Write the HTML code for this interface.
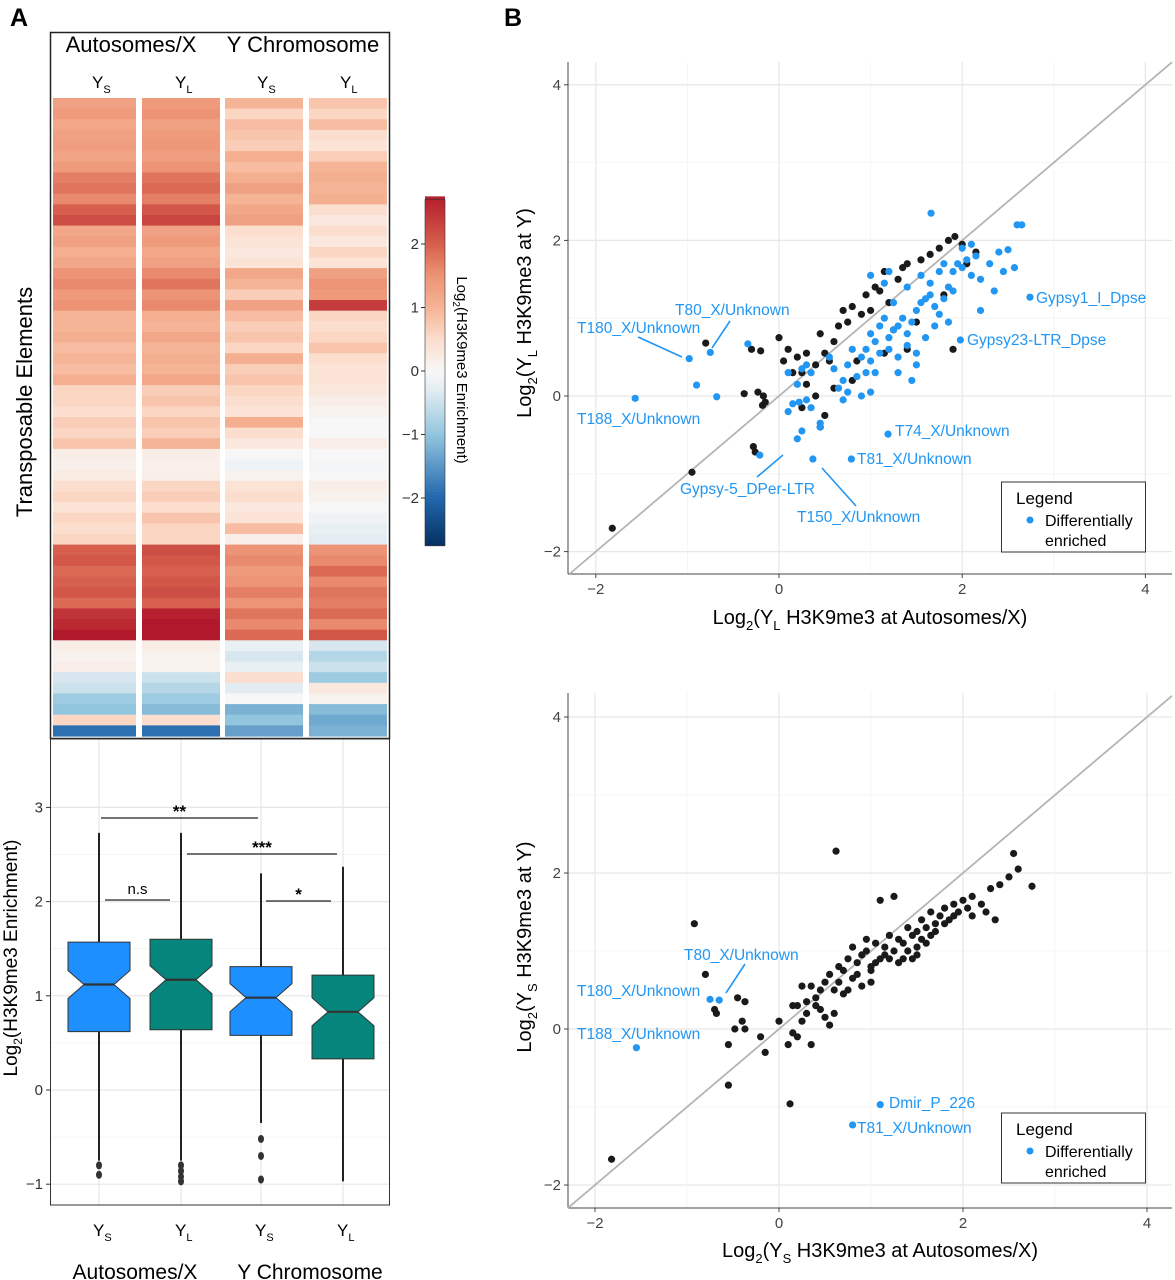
<!DOCTYPE html>
<html><head><meta charset="utf-8"><style>
html,body{margin:0;padding:0;background:#fff}
svg{display:block;font-family:"Liberation Sans",Arial,sans-serif}
</style></head><body>
<svg id="fig" width="1175" height="1280" viewBox="0 0 1175 1280" xmlns="http://www.w3.org/2000/svg">
<text x="10" y="26" font-size="25" font-weight="bold">A</text>
<text x="504" y="26" font-size="25" font-weight="bold">B</text>
<g id="heat"></g>
<g id="box"></g>
<g id="sc1"></g>
<g id="sc2"></g>
</svg>
<script>
const NS="http://www.w3.org/2000/svg";
function mk(p,t,a,txt){const e=document.createElementNS(NS,t);for(const k in a)e.setAttribute(k,a[k]);if(txt!==undefined)e.textContent=txt;p.appendChild(e);return e;}

// ---------- Heatmap data (rows top->bottom) ----------
const heatColumns=["Ys","YL","Ys","YL"];
const ysAuto=[1.3,1.4,1.2,1.3,1.35,1.25,1.4,1.7,1.8,1.6,2.0,2.2,1.2,1.3,1.1,1.2,1.5,1.6,1.4,1.5,1.0,1.0,1.1,0.9,1.0,0.9,1.1,0.6,0.6,0.5,0.7,0.6,0.8,0.2,0.15,0.25,0.5,0.6,0.4,0.6,0.5,0.6,2.0,2.1,1.9,2.0,2.1,1.9,2.5,2.6,2.8,0.2,0.1,0.2,-0.4,-0.5,-0.9,-1.0,0.6,-1.9];
const ylAuto=[1.4,1.5,1.3,1.4,1.45,1.35,1.5,1.8,1.9,1.7,2.1,2.3,1.3,1.4,1.2,1.3,1.6,1.8,1.5,1.6,1.1,1.0,1.2,1.0,1.1,1.0,1.2,0.7,0.8,0.6,0.8,0.7,1.0,0.2,0.15,0.2,0.6,0.7,0.5,0.8,0.6,0.6,2.2,2.1,2.0,2.1,2.2,2.0,2.7,2.8,2.9,0.2,0.1,0.1,-0.5,-0.7,-0.9,-1.1,0.5,-1.9];
const ysY=[1.0,0.6,0.9,0.8,0.7,1.1,0.9,1.1,1.3,1.0,1.2,1.3,0.5,0.4,0.3,0.4,1.2,1.0,0.7,1.3,0.9,0.7,0.8,0.6,1.1,0.7,0.8,0.6,0.5,0.4,1.1,0.5,0.3,0.0,-0.1,0.1,0.4,0.5,0.3,0.4,0.9,0.2,1.5,1.6,1.4,1.5,1.7,1.5,1.8,1.6,1.9,-0.2,-0.4,-0.2,0.5,-0.3,0.0,-1.2,-1.0,-1.4];
const ylY=[0.8,0.6,0.9,0.5,0.4,0.7,1.0,1.1,1.0,1.1,0.5,0.3,0.5,0.3,0.6,0.4,1.3,1.5,1.4,2.4,0.6,0.5,0.6,0.8,0.5,0.4,0.4,0.3,0.2,0.1,0.0,0.0,0.2,0.0,-0.05,0.0,0.2,0.1,0.0,-0.1,-0.2,-0.3,1.5,1.6,1.9,1.6,1.8,1.7,1.9,1.6,2.1,-0.4,-0.7,-0.5,-0.9,0.3,0.1,-1.1,-1.3,-1.2];
const cbTicks=[2,1,0,-1,-2];

const rdbu=[[-2.75,[5,48,97]],[-2,[33,102,172]],[-1,[146,197,222]],[-0.3,[226,236,242]],[0,[247,247,247]],[0.5,[252,222,206]],[1,[246,180,150]],[1.5,[238,148,118]],[2,[214,96,77]],[2.8,[178,24,43]]];
function col(v){if(v<=rdbu[0][0])return `rgb(${rdbu[0][1]})`;for(let i=1;i<rdbu.length;i++){if(v<=rdbu[i][0]){const a=rdbu[i-1],b=rdbu[i],t=(v-a[0])/(b[0]-a[0]);const c=a[1].map((x,j)=>Math.round(x+(b[1][j]-x)*t));return `rgb(${c})`;}}return `rgb(${rdbu[rdbu.length-1][1]})`;}

(function(){
 const g=document.getElementById('heat');
 mk(g,'rect',{x:50.5,y:32.5,width:339,height:706,fill:'#fff',stroke:'#222','stroke-width':1.5});
 let t=mk(g,'text',{x:131,y:52,'font-size':22,'text-anchor':'middle'},'Autosomes/X');
 t=mk(g,'text',{x:303,y:52,'font-size':22,'text-anchor':'middle'},'Y Chromosome');
 const colX=[53,142,225,309],colW=[83,78,78,78],cx=[97,180,262,345];
 const data=[ysAuto,ylAuto,ysY,ylY];
 const top=98,bot=736,n=ysAuto.length,h=(bot-top)/n;
 data.forEach((arr,c)=>{
  const lab=mk(g,'text',{x:cx[c]-5,y:88,'font-size':17});lab.textContent='Y';
  mk(lab,'tspan',{'font-size':11,dy:5},heatColumns[c]==='Ys'?'S':'L');
  
  arr.forEach((v,i)=>{const r=mk(g,'rect',{x:colX[c],y:top+i*h,width:colW[c],height:h+0.6,fill:col(v)});
   });
 });
 t=mk(g,'text',{transform:'translate(32,402) rotate(-90)','font-size':22,'text-anchor':'middle'},'Transposable Elements');
 
 const cb=mk(g,'g',{});
 const y0=371,k=63.5,vt=2.7,vb=-2.75;
 for(let v=vb;v<vt;v+=0.05){mk(cb,'rect',{x:425,y:y0-(v+0.05)*k,width:20,height:0.05*k+0.5,fill:col(v+0.025)});}
 mk(cb,'rect',{x:425,y:y0-vt*k,width:20,height:(vt-vb)*k,fill:'none',stroke:'#333','stroke-width':0.6});
 cbTicks.forEach(v=>{const y=y0-v*k;mk(cb,'line',{x1:421,x2:425,y1:y,y2:y,stroke:'#333'});
  const tt=mk(cb,'text',{x:419,y:y+5,'font-size':15,'text-anchor':'end',fill:'#333'},v<0?'\u2212'+(-v):String(v));
  });
 t=mk(g,'text',{transform:'translate(457,370) rotate(90)','font-size':15,'text-anchor':'middle'});
 t.appendChild(document.createTextNode('Log'));mk(t,'tspan',{'font-size':10,dy:4},'2');mk(t,'tspan',{dy:-4},'(H3K9me3 Enrichment)');
 
})();

// ---------- Boxplot ----------
const boxGroups=["S","L","S","L"];
const boxQ1=[0.62,0.64,0.58,0.33];
const boxMed=[1.12,1.17,0.98,0.83];
const boxQ3=[1.57,1.6,1.31,1.22];
const boxWhiskHi=[2.73,2.73,2.3,2.37];
const boxWhiskLo=[-0.75,-0.75,-0.35,-0.97];
const boxOutliers=[[-0.8,-0.9],[-0.8,-0.86,-0.92,-0.97],[-0.52,-0.7,-0.95],[]];
const boxFill=["#1e8fff","#05857b","#1e8fff","#05857b"];
const boxTicks=[3,2,1,0,-1];
(function(){
 const g=document.getElementById('box');
 const X0=50,X1=390,Y0=739,Y1=1205;
 const yS=v=>1090-v*94.2;
 mk(g,'rect',{x:X0,y:Y0,width:X1-X0,height:Y1-Y0,fill:'#fff'});
 for(let v=-1;v<=3;v+=0.5){mk(g,'line',{x1:X0,x2:X1,y1:yS(v),y2:yS(v),stroke:Number.isInteger(v)?'#e6e6e6':'#f2f2f2','stroke-width':Number.isInteger(v)?1.2:0.8});}
 const cx=[99,181,261,343];
 cx.forEach(x=>mk(g,'line',{x1:x,x2:x,y1:Y0,y2:Y1,stroke:'#e6e6e6','stroke-width':1.2}));
 mk(g,'rect',{x:X0+0.5,y:Y0,width:X1-X0-1,height:Y1-Y0,fill:'none',stroke:'#333','stroke-width':1});
 boxTicks.forEach(v=>{mk(g,'line',{x1:X0-4,x2:X0,y1:yS(v),y2:yS(v),stroke:'#333'});
  const t=mk(g,'text',{x:X0-7,y:yS(v)+5,'font-size':15,'text-anchor':'end',fill:'#333'},v<0?'\u2212'+(-v):String(v));
  });
 const w=31,nw=15;
 cx.forEach((x,i)=>{
  const b=mk(g,'g',{});
  mk(b,'line',{x1:x,x2:x,y1:yS(boxWhiskHi[i]),y2:yS(boxQ3[i]),stroke:'#222','stroke-width':2});
  mk(b,'line',{x1:x,x2:x,y1:yS(boxQ1[i]),y2:yS(boxWhiskLo[i]),stroke:'#222','stroke-width':2});
  const q1=yS(boxQ1[i]),q3=yS(boxQ3[i]),m=yS(boxMed[i]),nh=Math.min(14,(q1-q3)/2-2);
  mk(b,'path',{d:`M${x-w},${q3} L${x+w},${q3} L${x+w},${m-nh} L${x+nw},${m} L${x+w},${m+nh} L${x+w},${q1} L${x-w},${q1} L${x-w},${m+nh} L${x-nw},${m} L${x-w},${m-nh} Z`,fill:boxFill[i],stroke:'#333','stroke-width':1});
  mk(b,'line',{x1:x-nw,x2:x+nw,y1:m,y2:m,stroke:'#333','stroke-width':2.2});
  boxOutliers[i].forEach(o=>mk(b,'ellipse',{cx:x,cy:yS(o),rx:3,ry:4,fill:'#333'}));
  const t=mk(g,'text',{x:x-6,y:1236,'font-size':17});t.textContent='Y';mk(t,'tspan',{'font-size':11,dy:5},boxGroups[i]);
  
 });
 const sig=[[101,258,818,'**'],[187,337,854,'***'],[105,170,900,'n.s'],[266,331,901,'*']];
 sig.forEach(s=>{mk(g,'line',{x1:s[0],x2:s[1],y1:s[2],y2:s[2],stroke:'#222','stroke-width':1.2});
  const t=mk(g,'text',{x:(s[0]+s[1])/2,y:s[2]-(s[3]==='n.s'?6:1),'font-size':s[3]==='n.s'?15:17,'text-anchor':'middle','font-weight':s[3]==='n.s'?'normal':'bold'},s[3]);
  });
 let t=mk(g,'text',{transform:'translate(17,958) rotate(-90)','font-size':19,'text-anchor':'middle'});
 t.appendChild(document.createTextNode('Log'));mk(t,'tspan',{'font-size':12,dy:5},'2');mk(t,'tspan',{dy:-5},'(H3K9me3 Enrichment)');
 
 t=mk(g,'text',{x:135,y:1279,'font-size':21,'text-anchor':'middle'},'Autosomes/X');
 t=mk(g,'text',{x:310,y:1279,'font-size':21,'text-anchor':'middle'},'Y Chromosome');
})();

// ---------- Scatter data ----------
const topBlueX=[-0.98,-0.75,-1.57,-0.9,-0.68,-0.34,-0.21,0.37,0.79,1.19,1.98,2.74,1.66,2.6,2.65,0.1,0.2,0.25,0.3,0.35,0.15,0.22,0.3,0.35,0.45,0.25,0.1,0.2,0.45,0.55,0.6,0.7,0.75,0.8,0.85,0.9,0.95,0.65,0.7,0.75,1.0,1.05,1.1,1.15,1.2,1.25,1.3,1.35,1.4,1.45,1.5,1.55,1.6,1.65,1.7,1.75,1.8,1.85,1.9,1.95,2.0,2.05,2.1,2.15,2.2,2.3,2.4,2.45,2.5,2.57,2.35,2.2,1.85,1.1,1.2,1.3,1.4,1.5,1.3,1.0,0.95,1.6,1.7,1.5,1.25,1.4,1.55,1.8,2.0,2.1,1.2,1.0,1.15,1.05,0.9,1.0,1.45,1.65,1.75,1.9];
const topBlueY=[0.48,0.56,-0.03,0.14,-0.01,0.67,-0.76,-0.81,-0.81,-0.49,0.72,1.27,2.35,2.2,2.2,0.3,0.15,0.35,0.4,0.3,-0.1,-0.08,-0.05,-0.15,-0.35,-0.45,-0.2,-0.55,-0.4,0.5,0.35,0.2,0.4,0.6,0.25,0.5,0.3,0.1,-0.05,0.05,0.8,0.7,0.9,1.0,0.75,0.85,0.9,1.0,0.8,0.95,1.1,1.2,1.25,1.3,1.15,1.05,1.25,1.4,1.6,1.7,1.65,1.75,1.55,1.8,1.5,1.7,1.85,1.6,1.88,1.65,1.35,1.1,0.95,0.55,0.6,0.5,0.65,0.55,0.3,0.45,0.6,0.75,0.9,0.4,1.2,1.4,1.55,1.7,1.9,1.95,1.6,1.55,1.45,0.3,0.0,0.05,0.2,1.45,1.6,1.35];
const topBlackX=[-1.82,-0.95,-0.28,-0.26,-0.8,-0.3,-0.2,-0.38,-0.23,-0.17,-0.15,-0.18,0.25,0.5,0.0,0.1,0.15,0.2,0.25,0.3,0.4,0.45,0.5,0.55,0.6,0.65,0.7,0.75,0.8,0.9,0.95,1.0,1.05,1.1,1.15,1.2,1.3,1.35,1.4,1.55,1.65,1.75,1.85,1.92,2.0,2.15,2.05,1.8,1.5,1.4,1.25,1.15,0.6,0.4,0.8,0.45,1.9,0.85,0.3,0.05];
const topBlackY=[-1.7,-0.98,-0.65,-0.72,0.68,0.6,0.58,0.03,0.05,0.0,-0.08,-0.12,-0.15,-0.25,0.75,0.6,0.3,0.5,0.3,0.55,0.4,0.8,0.55,0.45,0.7,0.9,1.1,0.95,1.15,1.05,1.3,1.1,1.4,1.35,1.6,1.2,1.5,1.65,1.7,1.75,1.82,1.9,2.0,2.05,1.95,1.85,1.7,1.3,0.95,0.6,0.85,0.55,0.1,0.0,0.2,-0.4,0.6,0.45,0.15,0.45];
const botBlueX=[-0.75,-0.65,-1.55,1.1,0.8];
const botBlueY=[0.38,0.37,-0.24,-0.97,-1.23];
const botBlackX=[-1.82,-0.92,-0.8,-0.7,-0.68,-0.55,-0.55,-0.45,-0.37,-0.37,-0.2,-0.15,0.12,0.62,-0.48,-0.4,0.0,0.1,0.15,0.2,0.25,0.3,0.35,0.4,0.45,0.5,0.55,0.6,0.65,0.7,0.75,0.8,0.85,0.9,0.95,1.0,1.05,1.1,1.15,1.2,1.25,1.3,1.35,1.4,1.45,1.5,1.55,1.6,1.65,1.7,1.75,1.8,1.85,1.9,1.95,2.0,2.05,2.1,2.2,2.3,2.4,2.5,2.6,2.75,2.55,2.35,2.25,1.1,1.25,0.4,0.5,0.7,0.9,0.55,0.3,0.2,0.45,0.65,1.0,1.2,1.4,1.6,1.8,0.8,0.95,1.05,1.15,1.35,1.5,1.7,1.9,0.35,0.6,0.75,1.3,1.45,1.55,1.65,2.1,0.85,0.25,0.15,1.0,1.5];
const botBlackY=[-1.67,1.35,0.7,0.25,0.2,-0.2,-0.72,0.4,0.35,0.0,-0.1,-0.3,-0.96,2.28,0.0,0.1,0.1,-0.2,0.3,-0.1,0.1,0.2,0.55,0.3,0.5,0.6,0.7,0.5,0.8,0.75,0.9,0.65,0.85,0.95,1.0,0.8,1.1,0.9,1.05,1.2,1.0,1.15,1.1,1.3,1.2,1.25,1.4,1.3,1.5,1.35,1.45,1.55,1.4,1.6,1.5,1.65,1.55,1.7,1.6,1.8,1.85,1.95,2.05,1.83,2.25,1.4,1.5,1.65,1.7,0.4,0.15,0.45,0.55,0.05,0.35,0.3,0.25,0.6,0.75,0.9,1.0,1.1,1.35,1.05,1.15,0.85,0.95,0.9,1.05,1.25,1.45,-0.2,0.2,0.5,0.85,0.9,1.15,1.2,1.45,0.7,0.55,-0.05,0.6,0.95];
const axisTicks=[-2,0,2,4];

function scatter(gid,P,bx,by,kx,ky,blackX,blackY,blueX,blueY,xt,yt,labels,lines,legY){
 const g=document.getElementById(gid);
 const X=v=>P.x0+v*kx,Y=v=>P.y0-v*ky;
 const L=P.left,R=P.right,T=P.top,B=P.bottom;
 for(let v=-3;v<=5;v++){const mn=Math.abs(v)%2===1;
  const x=X(v);if(x>L&&x<R)mk(g,'line',{x1:x,x2:x,y1:T,y2:B,stroke:mn?'#f3f3f3':'#e8e8e8','stroke-width':mn?0.8:1.3});
  const y=Y(v);if(y>T&&y<B)mk(g,'line',{x1:L,x2:R,y1:y,y2:y,stroke:mn?'#f3f3f3':'#e8e8e8','stroke-width':mn?0.8:1.3});}
 mk(g,'line',{x1:L,x2:L,y1:T,y2:B,stroke:'#444','stroke-width':1});
 mk(g,'line',{x1:L,x2:R,y1:B,y2:B,stroke:'#444','stroke-width':1});
 const lo=Math.max((L-P.x0)/kx,(P.y0-B)/ky),hi=Math.min((R-P.x0)/kx,(P.y0-T)/ky);
 const d=mk(g,'line',{x1:X(lo),y1:Y(lo),x2:X(hi),y2:Y(hi),stroke:'#b5b5b5','stroke-width':1.8});
 
 axisTicks.forEach(v=>{const x=X(v);mk(g,'line',{x1:x,x2:x,y1:B,y2:B+4,stroke:'#444'});
  let t=mk(g,'text',{x:x,y:B+20,'font-size':15,'text-anchor':'middle',fill:'#444'},v<0?'\u2212'+(-v):String(v));
  
  const y=Y(v);mk(g,'line',{x1:L-4,x2:L,y1:y,y2:y,stroke:'#444'});
  t=mk(g,'text',{x:L-7,y:y+5,'font-size':15,'text-anchor':'end',fill:'#444'},v<0?'\u2212'+(-v):String(v));
  });
 blackX.forEach((v,i)=>{const c=mk(g,'circle',{cx:X(v),cy:Y(blackY[i]),r:3.6,fill:'#1a1a1a'});
  });
 blueX.forEach((v,i)=>{const c=mk(g,'circle',{cx:X(v),cy:Y(blueY[i]),r:3.6,fill:'#2196f3'});
  });
 lines.forEach(l=>mk(g,'line',{x1:l[0],y1:l[1],x2:l[2],y2:l[3],stroke:'#2196f3','stroke-width':1.6}));
 labels.forEach(l=>{const t=mk(g,'text',{x:l[0],y:l[1],'font-size':15.5,fill:'#2196f3'},l[2]);
  });
 const lg=mk(g,'g',{});
 mk(lg,'rect',{x:1001.5,y:legY,width:144,height:70,fill:'#fff',stroke:'#333','stroke-width':1});
 mk(lg,'text',{x:1016,y:legY+22,'font-size':17},'Legend');
 mk(lg,'circle',{cx:1030,cy:legY+38,r:3.5,fill:'#2196f3'});
 mk(lg,'text',{x:1045,y:legY+44,'font-size':16},'Differentially');
 mk(lg,'text',{x:1045,y:legY+64,'font-size':16},'enriched');
 let t=mk(g,'text',{x:xt[0],y:xt[1],'font-size':20,'text-anchor':'middle'});
 t.appendChild(document.createTextNode('Log'));mk(t,'tspan',{'font-size':13,dy:6},'2');mk(t,'tspan',{dy:-6},'(Y');mk(t,'tspan',{'font-size':13,dy:6},xt[2]);mk(t,'tspan',{dy:-6},' H3K9me3 at Autosomes/X)');
 
 t=mk(g,'text',{transform:`translate(${yt[0]},${yt[1]}) rotate(-90)`,'font-size':20,'text-anchor':'middle'});
 t.appendChild(document.createTextNode('Log'));mk(t,'tspan',{'font-size':13,dy:6},'2');mk(t,'tspan',{dy:-6},'(Y');mk(t,'tspan',{'font-size':13,dy:6},yt[2]);mk(t,'tspan',{dy:-6},' H3K9me3 at Y)');
 
}
scatter('sc1',{x0:779,y0:396,left:568,right:1172,top:62,bottom:574},0,0,91.6,77.8,topBlackX,topBlackY,topBlueX,topBlueY,[870,624,'L'],[531,313,'L'],
 [[675,315,'T80_X/Unknown'],[577,333,'T180_X/Unknown'],[577,424,'T188_X/Unknown'],[680,494,'Gypsy-5_DPer-LTR'],[797,522,'T150_X/Unknown'],[857,464,'T81_X/Unknown'],[895,436,'T74_X/Unknown'],[967,345,'Gypsy23-LTR_Dpse'],[1036,303,'Gypsy1_I_Dpse']],
 [[638,337,682,357],[730,321,712,348],[757,477,783,455],[856,506,822,468]],482);
scatter('sc2',{x0:779,y0:1029,left:568,right:1172,top:693,bottom:1208},0,0,92,78,botBlackX,botBlackY,botBlueX,botBlueY,[880,1257,'S'],[531,947,'S'],
 [[684,960,'T80_X/Unknown'],[577,996,'T180_X/Unknown'],[577,1039,'T188_X/Unknown'],[889,1108,'Dmir_P_226'],[857,1133,'T81_X/Unknown']],
 [[745,964,726,993]],1113);
</script>
</body></html>
